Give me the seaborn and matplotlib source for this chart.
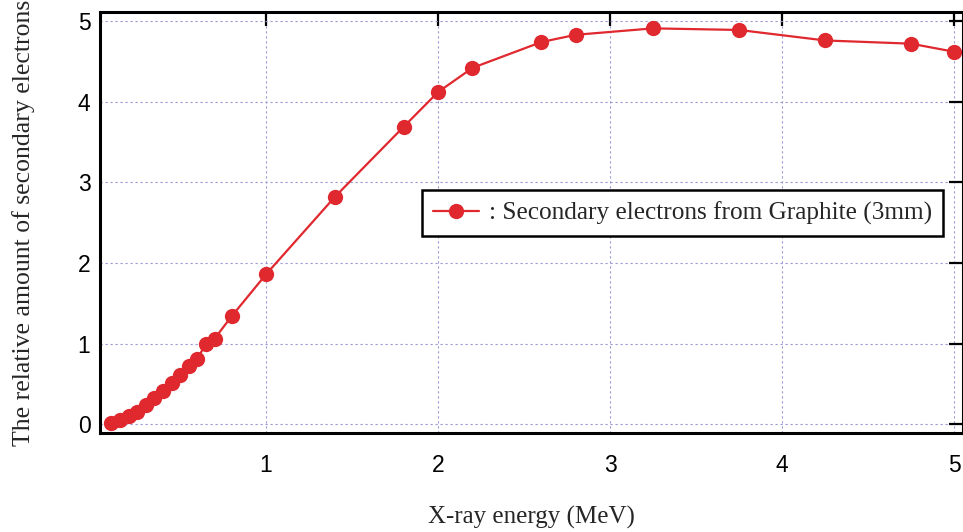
import matplotlib
matplotlib.use("Agg")
import matplotlib.pyplot as plt
import seaborn as sns
import pandas as pd

# values
energy = [0.10, 0.15, 0.20, 0.25, 0.30, 0.35, 0.40, 0.45, 0.50, 0.55, 0.60, 0.65, 0.70,
          0.80, 1.00, 1.40, 1.80, 2.00, 2.20, 2.60, 2.80, 3.25, 3.75, 4.25, 4.75, 5.00]
amount = [0.02, 0.05, 0.10, 0.15, 0.24, 0.33, 0.41, 0.51, 0.61, 0.72, 0.81, 1.00, 1.06,
          1.34, 1.86, 2.82, 3.69, 4.12, 4.42, 4.74, 4.83, 4.91, 4.89, 4.76, 4.72, 4.62]
x_ticks = [1, 2, 3, 4, 5]
y_ticks = [0, 1, 2, 3, 4, 5]
series_label = ": Secondary electrons from Graphite (3mm)"

df = pd.DataFrame({"energy": energy, "amount": amount})

sns.set_style("white")
plt.rcParams["font.family"] = ["Liberation Sans", "DejaVu Sans"]

fig = plt.figure(figsize=(9.63, 5.32), dpi=100)
ax = fig.add_axes([0.104, 0.186, 0.896, 0.791])

red = "#e0282f"
sns.lineplot(data=df, x="energy", y="amount", ax=ax, color=red, linewidth=1.6,
             marker="o", markersize=11, markeredgewidth=0, label=series_label)

ax.set_xlim(0.035, 5.052)
ax.set_ylim(-0.11, 5.11)
ax.set_xticks(x_ticks)
ax.set_yticks(y_ticks)
ax.grid(True, color="#9a9ad6", linestyle=(0, (2, 2.5)), linewidth=0.8)
ax.tick_params(direction="in", length=10, width=1.6, colors="black", labelsize=16.5,
               top=True, right=True)
ax.tick_params(axis="x", pad=15)
ax.tick_params(axis="y", pad=7)
for s in ax.spines.values():
    s.set_color("black")
    s.set_linewidth(2.2)

serif = ["Liberation Serif", "DejaVu Serif"]
ax.set_xlabel("X-ray energy (MeV)", fontsize=18, family=serif, labelpad=21)
ax.set_ylabel("The relative amount of secondary electrons", fontsize=18.5, family=serif, labelpad=31)

leg = ax.legend(loc="upper left", bbox_to_anchor=(0.373, 0.577), borderaxespad=0,
                frameon=True, fancybox=False, prop={"family": serif, "size": 18.2},
                handlelength=1.8, handletextpad=0.4, borderpad=0.45)
leg.get_frame().set_edgecolor("black")
leg.get_frame().set_linewidth(1.8)
leg.get_frame().set_alpha(1)

fig.savefig("out.png", dpi=100)
